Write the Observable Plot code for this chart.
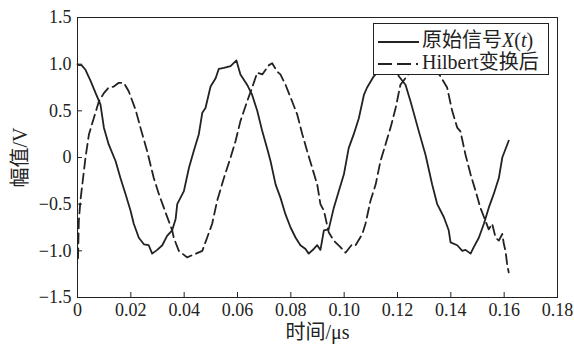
<!DOCTYPE html>
<html>
<head>
<meta charset="utf-8">
<script src="https://cdn.jsdelivr.net/npm/d3@7"></script>
<script src="https://cdn.jsdelivr.net/npm/@observablehq/plot@0.6"></script>
<style>
  html, body { margin: 0; padding: 0; background: white; }
  #wrap { position: relative; width: 574px; height: 347px; font-family: "Liberation Serif", "Noto Sans CJK SC", serif; color: #222; }
  #legend { position: absolute; left: 373px; top: 23px; width: 174px; height: 50px; border: 1px solid #222; background: white; font-size: 20px; }
  .row { position: absolute; left: 4px; height: 22px; line-height: 22px; white-space: nowrap; }
  .row svg { vertical-align: middle; margin-right: 3px; }
  g[aria-label="x-axis label"] text, g[aria-label="y-axis label"] text { font-size: 20px; }
</style>
</head>
<body>
<div id="wrap"><div id="legend"></div></div>
<script>
// ---- data ----
const seriesNames = ["原始信号", "Hilbert变换后"];

const tSolid = [0.0000,0.0005,0.0015,0.003,0.0049,0.0068,0.0086,0.0099,0.0117,0.0143,0.0161,0.018,0.0199,0.0211,0.023,0.0249,0.0267,0.028,0.0299,0.0318,0.0336,0.0355,0.0368,0.0374,0.0399,0.0418,0.0436,0.0455,0.0468,0.048,0.0499,0.0518,0.053,0.0549,0.0574,0.0596,0.0611,0.0636,0.0655,0.0674,0.0693,0.0711,0.0724,0.0743,0.0761,0.078,0.0799,0.0818,0.0836,0.0855,0.0867,0.0886,0.0899,0.0911,0.0924,0.0942,0.0961,0.098,0.0999,0.1017,0.1036,0.1055,0.1074,0.1086,0.1111,0.114,0.1165,0.119,0.1205,0.123,0.1249,0.128,0.1305,0.133,0.1349,0.1374,0.1392,0.1399,0.1424,0.1443,0.1455,0.1474,0.1486,0.1505,0.1524,0.1542,0.1561,0.158,0.1593,0.1617];
const vSolid = [1.00,0.99,0.99,0.94,0.82,0.69,0.57,0.32,0.14,-0.04,-0.22,-0.39,-0.57,-0.71,-0.86,-0.93,-0.94,-1.03,-0.99,-0.94,-0.84,-0.78,-0.66,-0.50,-0.36,-0.11,0.07,0.25,0.48,0.53,0.76,0.85,0.95,0.96,0.98,1.04,0.89,0.78,0.67,0.50,0.28,0.10,-0.04,-0.29,-0.43,-0.61,-0.75,-0.86,-0.94,-0.98,-1.03,-0.98,-0.94,-0.99,-0.78,-0.77,-0.54,-0.36,-0.18,0.10,0.25,0.42,0.67,0.75,0.87,0.96,1.00,0.98,0.87,0.78,0.60,0.28,0.03,-0.29,-0.50,-0.64,-0.78,-0.91,-0.94,-1.00,-0.99,-1.03,-0.96,-0.86,-0.71,-0.54,-0.39,-0.22,0.00,0.18];

const tDash = [0.0002,0.0005,0.0011,0.0018,0.003,0.0043,0.0061,0.008,0.0099,0.0117,0.0136,0.0155,0.0174,0.0192,0.0218,0.0236,0.0261,0.0286,0.0305,0.0324,0.0342,0.0355,0.0361,0.038,0.0411,0.0436,0.0468,0.0486,0.0505,0.0524,0.0549,0.0574,0.0593,0.0611,0.0636,0.0655,0.0674,0.0693,0.0718,0.073,0.0749,0.0761,0.078,0.0805,0.0824,0.0843,0.0861,0.088,0.0899,0.0911,0.0924,0.0942,0.0961,0.0986,0.1005,0.103,0.1043,0.1068,0.108,0.1099,0.1118,0.1136,0.1155,0.1174,0.1193,0.1211,0.1243,0.128,0.131,0.134,0.1361,0.1386,0.1405,0.1424,0.1436,0.1455,0.1474,0.1493,0.1511,0.153,0.1542,0.1555,0.1568,0.158,0.1593,0.1599,0.1605,0.1611,0.1617];
const vDash = [-1.08,-0.68,-0.46,-0.29,0.00,0.25,0.42,0.60,0.69,0.75,0.76,0.80,0.80,0.71,0.51,0.32,0.07,-0.22,-0.39,-0.54,-0.68,-0.78,-0.86,-1.00,-1.07,-1.04,-1.00,-0.86,-0.71,-0.46,-0.22,0.00,0.18,0.39,0.60,0.75,0.91,0.89,0.99,1.01,0.92,0.89,0.78,0.60,0.46,0.25,0.07,-0.11,-0.29,-0.50,-0.57,-0.80,-0.89,-0.96,-1.02,-0.93,-0.94,-0.82,-0.71,-0.46,-0.29,-0.04,0.14,0.32,0.53,0.78,0.90,0.98,1.00,0.95,0.87,0.75,0.50,0.32,0.28,0.03,-0.18,-0.36,-0.54,-0.68,-0.77,-0.71,-0.86,-0.89,-0.82,-0.93,-1.00,-1.14,-1.23];

const xTicks = [0, 0.02, 0.04, 0.06, 0.08, 0.10, 0.12, 0.14, 0.16, 0.18];
const xTickLabels = ["0", "0.02", "0.04", "0.06", "0.08", "0.10", "0.12", "0.14", "0.16", "0.18"];
const yTicks = [-1.5, -1.0, -0.5, 0, 0.5, 1.0, 1.5];
const yTickLabels = ["\u22121.5", "\u22121.0", "\u22120.5", "0", "0.5", "1.0", "1.5"];

// ---- build ----
const solid = tSolid.map((t, i) => ({t, v: vSolid[i]}));
const dash = tDash.map((t, i) => ({t, v: vDash[i]}));
const ink = "#222";

const chart = Plot.plot({
  width: 574,
  height: 347,
  marginLeft: 77,
  marginRight: 17,
  marginTop: 17,
  marginBottom: 50,
  style: {fontFamily: "'Liberation Serif', 'Noto Sans CJK SC', serif", fontSize: "18px", color: ink, background: "white"},
  x: {domain: [0, 0.18]},
  y: {domain: [-1.5, 1.5]},
  marks: [
    Plot.line(solid, {x: "t", y: "v", stroke: ink, strokeWidth: 1.8, curve: "linear"}),
    Plot.line(dash, {x: "t", y: "v", stroke: ink, strokeWidth: 1.8, strokeDasharray: "10,5", curve: "linear"}),
    Plot.frame({stroke: ink, strokeWidth: 1}),
    Plot.axisX({ticks: xTicks, tickFormat: d => xTickLabels[xTicks.indexOf(d)], tickSize: -5, tickPadding: 11,
      label: "时间/μs", labelAnchor: "center", labelOffset: 41, labelArrow: "none", stroke: ink, fill: ink}),
    Plot.axisY({ticks: yTicks, tickFormat: d => yTickLabels[yTicks.indexOf(d)], tickSize: -5, tickPadding: 11,
      label: "幅值/V", labelAnchor: "center", labelOffset: 65, labelArrow: "none", stroke: ink, fill: ink})
  ]
});
document.getElementById("wrap").prepend(chart);

// legend
const legend = document.getElementById("legend");
const rows = [
  {dash: null, html: seriesNames[0] + '<i>X</i>(<i>t</i>)', top: 5},
  {dash: "14,5,14,5,2,20", html: seriesNames[1], top: 27}
];
rows.forEach(r => {
  const div = document.createElement("div");
  div.className = "row";
  div.style.top = r.top + "px";
  div.innerHTML = `<svg width="41" height="4"><line x1="0" y1="2" x2="41" y2="2" stroke="${ink}" stroke-width="2" ${r.dash ? `stroke-dasharray="${r.dash}"` : ""}/></svg>` + r.html;
  legend.appendChild(div);
});
</script>
</body>
</html>
